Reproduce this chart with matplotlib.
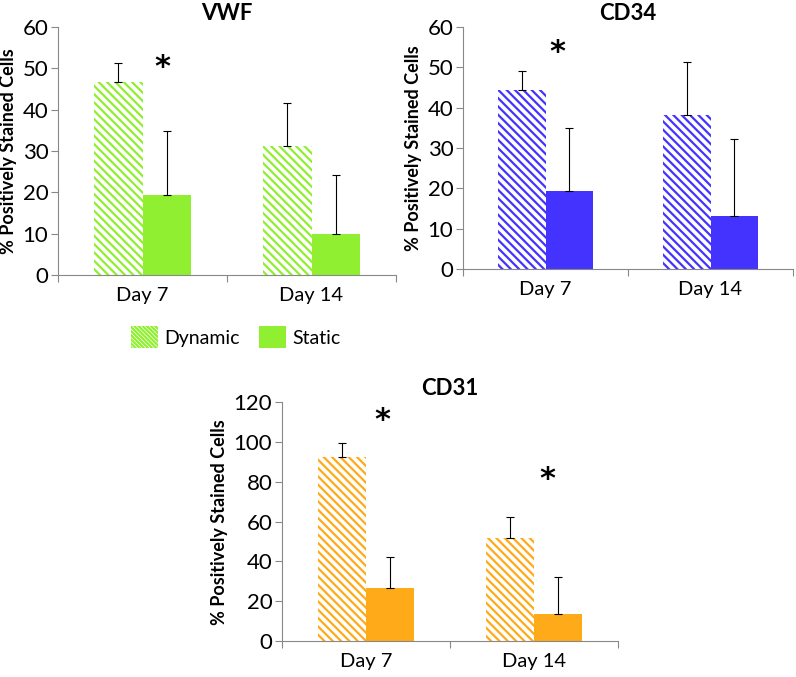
import numpy as np
import matplotlib.pyplot as plt
from matplotlib.patches import Patch

# ================== DATI ==================
days = ['Day 7', 'Day 14']

vwf_dyn = [46.8, 31.3]
vwf_dyn_err = [4.4, 10.2]
vwf_sta = [19.4, 10.0]
vwf_sta_err = [15.4, 14.2]

cd34_dyn = [44.4, 38.2]
cd34_dyn_err = [4.6, 13.1]
cd34_sta = [19.3, 13.2]
cd34_sta_err = [15.6, 19.1]

cd31_dyn = [92.4, 51.9]
cd31_dyn_err = [7.0, 10.6]
cd31_sta = [26.8, 13.6]
cd31_sta_err = [15.6, 18.7]

# asterischi (x in unita di categoria, y in unita dati)
vwf_stars = [(0.12, 50.3)]
cd34_stars = [(0.07, 53.6)]
cd31_stars = [(0.10, 111), (1.08, 81)]

green = '#8FEF30'
blue = '#4433FF'
orange = '#FFAA18'

plt.rcParams['font.family'] = ['Lato', 'DejaVu Sans']
plt.rcParams['hatch.linewidth'] = 1.6

fig = plt.figure(figsize=(7.96, 6.77), dpi=100)

bw = 0.286
bar_hatch = chr(92) * 4      # linee diagonali
legend_hatch = chr(92) * 8


def panel(rect, title, dyn, dyn_err, sta, sta_err, color, ymax, ystep, stars):
    ax = fig.add_axes(rect)
    x = np.arange(len(days))
    ax.bar(x - bw / 2, dyn, bw, color='white', edgecolor=color, hatch=bar_hatch, linewidth=0)
    ax.bar(x + bw / 2, sta, bw, color=color, linewidth=0)
    ax.errorbar(x - bw / 2, dyn, yerr=[np.zeros(len(dyn)), dyn_err], fmt='none',
                ecolor='black', elinewidth=0.8, capsize=3, capthick=0.8)
    ax.errorbar(x + bw / 2, sta, yerr=[np.zeros(len(sta)), sta_err], fmt='none',
                ecolor='black', elinewidth=0.8, capsize=3, capthick=0.8)
    for sx, sy in stars:
        ax.text(sx, sy, '*', ha='center', va='center', fontsize=22, fontweight='bold',
                family='DejaVu Sans')
    ax.set_xlim(-0.5, 1.5)
    ax.set_ylim(0, ymax)
    ax.set_yticks(np.arange(0, ymax + 1, ystep))
    ax.set_xticks([-0.5, 0.5, 1.5])
    ax.set_xticklabels([])
    ax.set_xticks(x, minor=True)
    ax.set_xticklabels(days, minor=True)
    ax.tick_params(axis='x', which='minor', length=0, pad=9, labelsize=14.5)
    ax.tick_params(axis='x', which='major', length=5, color='#888888')
    ax.tick_params(axis='y', length=5, color='#888888', labelsize=16, pad=2)
    for s in ['top', 'right']:
        ax.spines[s].set_visible(False)
    for s in ['left', 'bottom']:
        ax.spines[s].set_color('#888888')
    ax.set_ylabel('% Positively Stained Cells', fontsize=13, fontweight='bold', labelpad=4)
    ax.set_title(title, fontsize=16, fontweight='bold', pad=5)
    return ax


panel([0.0729, 0.5938, 0.4246, 0.3663], 'VWF', vwf_dyn, vwf_dyn_err, vwf_sta, vwf_sta_err,
      green, 60, 10, vwf_stars)
panel([0.5817, 0.6027, 0.4146, 0.3575], 'CD34', cd34_dyn, cd34_dyn_err, cd34_sta, cd34_sta_err,
      blue, 60, 10, cd34_stars)
panel([0.3543, 0.0532, 0.4221, 0.3526], 'CD31', cd31_dyn, cd31_dyn_err, cd31_sta, cd31_sta_err,
      orange, 120, 20, cd31_stars)

handles = [Patch(facecolor='white', edgecolor=green, hatch=legend_hatch, linewidth=0, label='Dynamic'),
           Patch(facecolor=green, linewidth=0, label='Static')]
fig.legend(handles=handles, loc='center', bbox_to_anchor=(0.296, 0.502), ncol=2,
           frameon=False, fontsize=14, handlelength=1.4, handleheight=1.4,
           handletextpad=0.3, columnspacing=1.0)

fig.savefig('out.png', dpi=100)
